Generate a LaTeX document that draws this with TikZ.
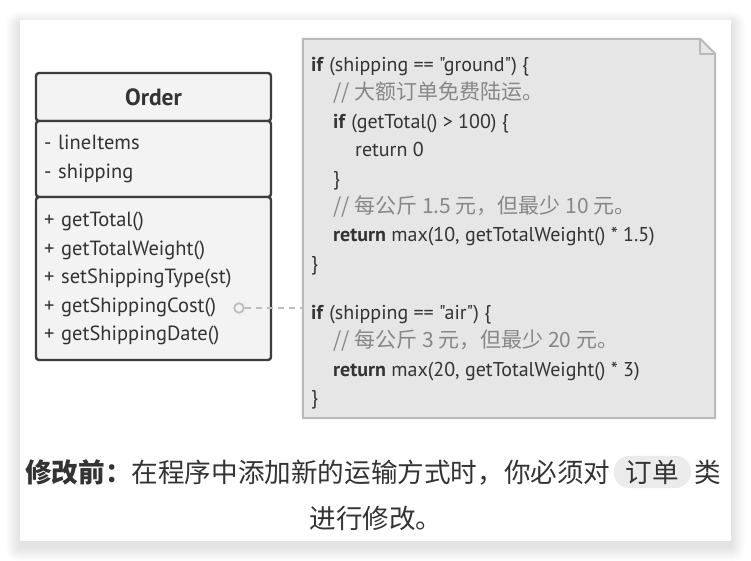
\documentclass[tikz,border=0pt]{standalone}
\usepackage{fontspec}
\setmainfont{PT Sans}[Ligatures=TeXOff]
\newfontfamily\cjk{Noto Sans CJK SC}
\usetikzlibrary{positioning, calc}
\definecolor{cink}{HTML}{333333}
\definecolor{cedge}{HTML}{3d3d3d}
\definecolor{cclass}{HTML}{f3f3f3}
\definecolor{cnote}{HTML}{e6e6e6}
\definecolor{cnoteline}{HTML}{b9b9b9}
\definecolor{cmuted}{HTML}{878787}
\definecolor{cdash}{HTML}{bdbdbd}
\definecolor{cpill}{HTML}{ebebeb}
\newcommand\codenote[1]{{\color{cmuted}\cjk\fontsize{21}{28.4}\selectfont #1}}

\begin{document}
\begin{tikzpicture}[
  x=1pt, y=-1pt,
  text=cink,
  node distance=0pt,
  card/.style={fill=white, minimum width=711pt, minimum height=521pt, inner sep=0pt},
  part/.style={draw=cedge, line width=2.4pt, fill=cclass, rounded corners=3pt,
               minimum width=235pt, outer sep=0pt, inner xsep=8pt,
               text width=219pt, align=left,
               font=\fontsize{20.5}{28.5}\selectfont},
  notebox/.style={minimum width=412pt, minimum height=379pt, inner sep=0pt},
  code/.style={align=left, inner sep=0pt, font=\fontsize{20}{28.4}\selectfont},
  captxt/.style={font=\cjk\fontsize{26.6}{32}\selectfont, inner sep=0pt},
  pill/.style={fill=cpill, rounded corners=16pt, inner xsep=12pt, inner ysep=4pt},
  ]
\useasboundingbox (0,0) rectangle (751,561);
% ---- card with soft shadow
\foreach \i in {1,...,14}
  \fill[black, opacity=0.009, rounded corners=\i pt]
    (20-\i,20-\i+5) rectangle (731+\i,541+\i+6);
\node[card] (card) at (375.5,280.5) {};
% ---- class Order
\node[part, align=center, minimum height=48pt, font=\fontsize{23.5}{26}\selectfont\bfseries]
  (order) at (153.5,97) {Order};
\node[part, minimum height=76pt, below=of order] (fields)
  {- lineItems\\- shipping};
\node[part, minimum height=163pt, below=of fields] (methods)
  {+ getTotal()\\+ getTotalWeight()\\+ setShippingType(st)\\+ getShippingCost()\\+ getShippingDate()};
% ---- note with code
\node[notebox] (note) at (509,228.5) {};
\fill[cnote] (note.north west) -- ($(note.north east)+(-15,0)$)
  -- ($(note.north east)+(0,15)$) -- (note.south east) -- (note.south west) -- cycle;
\draw[cnoteline, line width=2pt, line join=round] (note.north west) -- ($(note.north east)+(-15,0)$)
  -- ($(note.north east)+(0,15)$) -- (note.south east) -- (note.south west) -- cycle;
\draw[cnoteline, line width=2pt, line join=round] ($(note.north east)+(-15,0)$)
  -- ($(note.north east)+(-15,15)$) -- ($(note.north east)+(0,15)$);
\node[code, anchor=north west] (src) at (311,57) {%
  \textbf{if} (shipping == "ground") \{\\
  \hspace*{22pt}\codenote{// 大额订单免费陆运。}\\
  \hspace*{22pt}\textbf{if} (getTotal() > 100) \{\\
  \hspace*{44pt}return 0\\
  \hspace*{22pt}\}\\
  \hspace*{22pt}\codenote{// 每公斤 1.5 元，但最少 10 元。}\\
  \hspace*{22pt}\textbf{return} max(10, getTotalWeight() * 1.5)\\
  \}\\[20.7pt]
  \textbf{if} (shipping == "air") \{\\
  \hspace*{22pt}\codenote{// 每公斤 3 元，但最少 20 元。}\\
  \hspace*{22pt}\textbf{return} max(20, getTotalWeight() * 3)\\
  \}};
% ---- link from getShippingCost() to the note
\node[circle, draw=cdash, line width=1.8pt, fill=cclass, minimum size=9.5pt, inner sep=0pt]
  (dot) at (239,308) {};
\draw[cdash, line width=2pt, dash pattern=on 6pt off 5pt] (dot.east) -- (dot.east -| note.west);
% ---- caption
\node[captxt, anchor=base west] (capA) at (25,482) {\textbf{修改前：}在程序中添加新的运输方式时，你必须对};
\node[captxt, pill, base right=3pt of capA] (capB) {订单};
\node[captxt, base right=3pt of capB] (capC) {类};
\node[captxt, anchor=base] (capD) at (376,528) {进行修改。};
\end{tikzpicture}
\end{document}
